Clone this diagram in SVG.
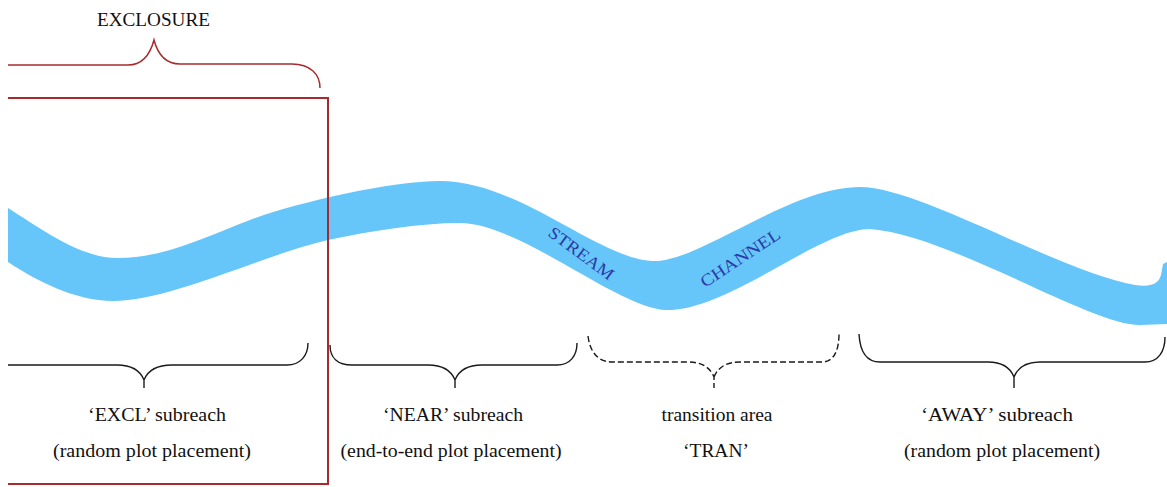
<svg xmlns="http://www.w3.org/2000/svg" width="1167" height="487" viewBox="0 0 1167 487">
<style>
.lbl{font-family:"Liberation Serif","Times New Roman",serif;font-size:18px;fill:#111;text-anchor:middle}
.riv{font-family:"Liberation Serif","Times New Roman",serif;font-size:17px;fill:#2a3aa6}
.brace{fill:none;stroke:#1a1a1a;stroke-width:1.4}
.dash{stroke-dasharray:6 3}
.red{fill:none;stroke:#a82a2e}
</style>
<rect width="1167" height="487" fill="#ffffff"/>
<g id="stream">
<path fill="#66c6fa" d="M 8,208 C 40,228 80,258 117,258 C 165,258 205,237 250,220 S 390,181 440,181 C 520,181 600,261 655,261 C 700,261 790,187 860,187 C 920,187 1060,272 1135,285 C 1150,287 1158,285 1161,275 L 1163,264 L 1167,262 L 1167,324 L 1140,325 C 1090,325 950,235 870,229 C 820,229 730,310 667,310 C 620,310 520,223 460,223 C 420,223 370,231 328,240 C 260,256 170,301 113,301 C 75,301 35,280 8,262 Z"/>
<text class="riv" transform="translate(547,235) rotate(36.6)" textLength="77" lengthAdjust="spacingAndGlyphs">STREAM</text>
<text class="riv" transform="translate(705,288) rotate(-33.5)" textLength="92" lengthAdjust="spacingAndGlyphs">CHANNEL</text>
</g>
<g id="exclosure">
<path class="red" stroke-width="1.5" d="M 8,65 H 128 C 142,65 150,55 154,40 C 158,55 166,64 180,64 H 292 C 310,64 320,74 320,88"/>
<path class="red" stroke-width="2" d="M 8,98 H 328 V 484 H 8"/>
<text class="lbl" x="153.5" y="26" textLength="113" lengthAdjust="spacingAndGlyphs">EXCLOSURE</text>
</g>
<g id="connectors">
<path id="brace-excl" class="brace" d="M 8,365 H 117 C 130,365 140,370 144,380 V 388 M 144,380 C 148,370 158,365 172,365 H 287 C 300,365 308,356 308,343"/>
<path id="brace-near" class="brace" d="M 330,345 C 330,358 338,365 352,365 H 428 C 441,365 451,370 455,380 V 388 M 455,380 C 459,370 469,365 482,365 H 557 C 570,365 577,356 577,343"/>
<path id="brace-tran" class="brace dash" d="M 588,336 C 590,352 598,362 612,362 H 688 C 701,362 710,367 714,377 V 388 M 714,377 C 718,367 727,362 740,362 H 822 C 834,362 839,350 839,334"/>
<path id="brace-away" class="brace" d="M 859,334 C 860,352 866,362 880,362 H 988 C 1001,362 1010,367 1014,377 V 388 M 1014,377 C 1018,367 1027,362 1040,362 H 1145 C 1158,362 1165,352 1165,337"/>
</g>
<g id="excl">
<text class="lbl" x="157" y="421" textLength="138" lengthAdjust="spacingAndGlyphs">‘EXCL’ subreach</text>
<text class="lbl" x="152" y="457" textLength="198" lengthAdjust="spacingAndGlyphs">(random plot placement)</text>
</g>
<g id="near">
<text class="lbl" x="453" y="421" textLength="140" lengthAdjust="spacingAndGlyphs">‘NEAR’ subreach</text>
<text class="lbl" x="451" y="457" textLength="221" lengthAdjust="spacingAndGlyphs">(end-to-end plot placement)</text>
</g>
<g id="tran">
<text class="lbl" x="717" y="421" textLength="111" lengthAdjust="spacingAndGlyphs">transition area</text>
<text class="lbl" x="716" y="457" textLength="66" lengthAdjust="spacingAndGlyphs">‘TRAN’</text>
</g>
<g id="away">
<text class="lbl" x="997" y="421" textLength="152" lengthAdjust="spacingAndGlyphs">‘AWAY’ subreach</text>
<text class="lbl" x="1002" y="457" textLength="196" lengthAdjust="spacingAndGlyphs">(random plot placement)</text>
</g>
</svg>
